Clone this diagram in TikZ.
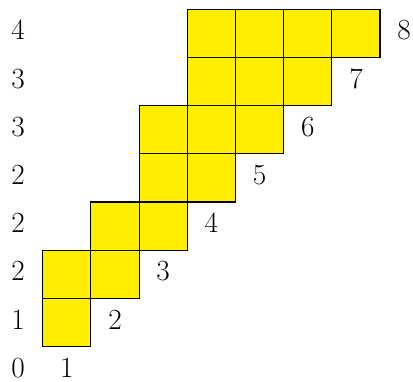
\documentclass[tikz,border=0pt]{standalone}
\definecolor{cellyellow}{RGB}{255,238,0}
\begin{document}
\begin{tikzpicture}[x=1cm,y=1cm,
  cell/.style={fill=cellyellow,minimum size=1cm,inner sep=0pt,outer sep=0pt},
  edge/.style={draw=black,line width=0.7pt},
  lab/.style={inner sep=0pt,font=\fontsize{17.5}{20}\selectfont}]
\useasboundingbox (-0.886,0.288) rectangle (7.683,8.193);
% row r: first column, last column (exclusive)
\foreach \r/\a/\b in {1/0/1,2/0/2,3/1/3,4/2/4,5/2/5,6/3/6,7/3/7}{
  \pgfmathtruncatemacro{\bb}{\b-1}
  \foreach \c in {\a,...,\bb}{
    \node[cell] (c-\r-\c) at (\c+0.5,\r+0.5) {};
  }
}
\foreach \r/\a/\b in {1/0/1,2/0/2,3/1/3,4/2/4,5/2/5,6/3/6,7/3/7}{
  \pgfmathtruncatemacro{\bb}{\b-1}
  \foreach \c in {\a,...,\bb}{
    \draw[edge] (c-\r-\c.south west) rectangle (c-\r-\c.north east);
  }
}
\foreach \r/\v in {0/0,1/1,2/2,3/2,4/2,5/3,6/3,7/4}{
  \node[lab] (l-\r) at (-0.51,\r+0.56) {$\v$};
}
\foreach \r/\x/\v in {0/0.5/1,1/1.5/2,2/2.5/3,3/3.5/4,4/4.5/5,5/5.5/6,6/6.5/7,7/7.5/8}{
  \node[lab] (r-\r) at (\x,\r+0.56) {$\v$};
}
\end{tikzpicture}
\end{document}
